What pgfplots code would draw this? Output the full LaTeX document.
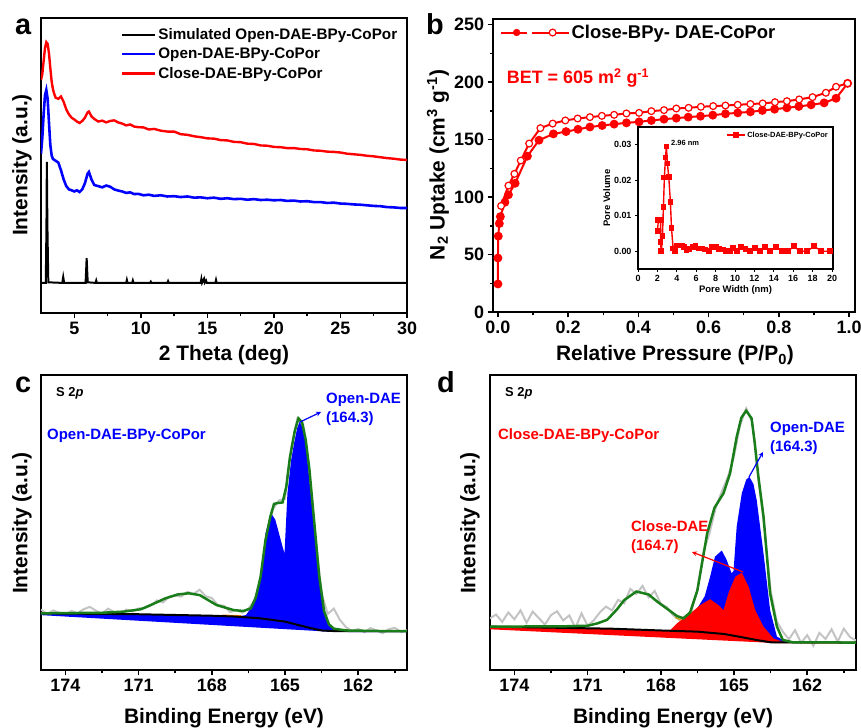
\documentclass[border=0pt]{standalone}
\usepackage{pgfplots}
\pgfplotsset{compat=1.18}
\usepackage{fontspec}
\setmainfont{Liberation Sans}
\definecolor{fitgreen}{RGB}{25,125,25}
\definecolor{rawgray}{RGB}{195,195,195}
\definecolor{bgolive}{RGB}{200,160,0}
\newcommand{\f}[1]{\fontsize{#1}{#1}\selectfont\bfseries}

\pgfplotsset{
  panel/.style={scale only axis, tick align=outside, tick pos=left,
    axis line style={line width=2pt},
    tick style={black, line width=1.5pt},
    major tick length=5.5bp, minor tick length=3.5bp,
    tick label style={font=\f{18}},
    /pgf/number format/assume math mode=true},
  xps/.style={panel, width=366bp, height=295bp, x dir=reverse,
    xmin=160, xmax=175, ymin=0, ymax=100, ytick=\empty,
    xtick={174,171,168,165,162}, minor xtick={172.5,169.5,166.5,163.5,160.5}},
}

\begin{document}
\begin{tikzpicture}
\useasboundingbox (0,0) rectangle (861bp,728bp);

% ---------------- (a) PXRD
\begin{axis}[panel, at={(41bp,415bp)}, anchor=south west,
  width=366bp, height=295bp,
  xmin=2.5, xmax=30, ymin=0, ymax=100, ytick=\empty,
  xtick={5,10,...,30}, minor x tick num=1,
  legend style={at={(rel axis cs:0.215,0.975)}, anchor=north west,
    draw=none, fill=none, font=\f{15.3}, row sep=3bp, inner sep=1bp},
  legend cell align=left,
  legend image code/.code={\draw[#1, line width=2.5pt] (0bp,0bp) -- (33bp,0bp);}]
\addplot[black, line width=2pt] coordinates {
(2.5,10.2) (2.86,10.2) (2.91,30) (2.94,51.2) (2.98,30) (3.05,10.4) (4.1,10.2)
(4.17,12.2) (4.24,10.2) (5.85,10.2) (5.93,18.6) (6.01,10.4) (6.6,10.2)
(6.65,11.0) (6.7,10.2) (8.9,10.2) (8.95,11.2) (9.0,10.2) (9.35,10.2)
(9.4,11.0) (9.45,10.2) (10.7,10.2) (10.75,10.6) (10.8,10.2) (12.0,10.2)
(12.05,10.8) (12.1,10.2) (14.5,10.2) (14.55,11.5) (14.6,10.2) (14.75,11.6)
(14.8,10.3) (14.9,11.0) (14.95,10.2) (15.6,10.2) (15.65,11.2) (15.7,10.2)
(30,10.2)};
\addlegendentry{Simulated Open-DAE-BPy-CoPor}
\addplot[blue, line width=2.6pt] coordinates {
(2.5,54.0) (2.6,59.5) (2.7,67.5) (2.8,73.8) (2.9,75.6) (3.0,72.5) (3.1,64.5)
(3.2,57.0) (3.3,53.4) (3.4,52.2) (3.6,51.6) (3.8,51.0) (4.0,48.4) (4.2,45.3)
(4.4,43.0) (4.6,41.9) (4.8,41.6) (5.0,41.2) (5.2,41.6) (5.4,41.0) (5.6,41.9)
(5.8,44.0) (6.0,47.2) (6.1,47.8) (6.3,45.2) (6.5,43.4) (6.8,43.0) (7.1,42.6)
(7.4,43.2) (7.7,42.8) (8.0,41.9) (8.3,41.5) (8.6,41.2) (8.9,40.7) (9.2,40.9)
(9.5,40.3) (9.8,40.4) (10.2,39.9) (10.6,40.1) (11.0,39.7) (11.5,39.9)
(12.0,39.5) (12.5,39.6) (13.0,39.3) (13.5,39.5) (14.0,39.1) (14.5,39.2)
(15.0,38.9) (15.5,39.1) (16.0,38.7) (16.5,38.9) (17.0,38.6) (17.5,38.7)
(18.0,38.4) (18.5,38.6) (19.0,38.3) (19.5,38.4) (20.0,38.2) (20.5,38.3)
(21.0,38.0) (21.5,38.1) (22.0,37.8) (22.5,37.9) (23.0,37.6) (23.5,37.6)
(24.0,37.3) (24.5,37.4) (25.0,37.1) (25.5,37.0) (26.0,36.8) (26.5,36.7)
(27.0,36.5) (27.5,36.3) (28.0,36.2) (28.5,35.9) (29.0,35.8) (29.5,35.6)
(30.0,35.6)};
\addlegendentry{Open-DAE-BPy-CoPor}
\addplot[red, line width=2.4pt] coordinates {
(2.5,79.0) (2.6,81.0) (2.7,85.5) (2.8,89.8) (2.9,91.8) (3.0,91.2) (3.1,88.0)
(3.2,83.0) (3.3,78.5) (3.4,75.8) (3.5,74.2) (3.6,73.0) (3.8,72.6) (4.0,73.4)
(4.2,71.6) (4.4,69.0) (4.6,67.3) (4.8,66.2) (5.0,65.6) (5.2,64.9) (5.4,64.4)
(5.6,65.1) (5.8,66.2) (6.0,68.0) (6.1,68.3) (6.3,66.6) (6.5,65.8) (6.8,64.9)
(7.1,65.2) (7.4,64.6) (7.7,65.1) (8.0,65.3) (8.3,64.6) (8.6,64.2) (8.9,63.6)
(9.2,63.9) (9.5,63.2) (9.8,63.0) (10.2,62.9) (10.6,62.2) (11.0,62.4)
(11.5,61.8) (12.0,61.5) (12.5,61.5) (13.0,60.6) (13.5,60.4) (14.0,59.9)
(14.5,59.6) (15.0,59.2) (15.5,59.1) (16.0,58.6) (16.5,58.5) (17.0,58.0)
(17.5,57.9) (18.0,57.4) (18.5,57.3) (19.0,56.8) (19.5,56.7) (20.0,56.3)
(20.5,56.2) (21.0,55.9) (21.5,55.9) (22.0,55.6) (22.5,55.5) (23.0,55.1)
(23.5,55.0) (24.0,54.7) (24.5,54.6) (25.0,54.4) (25.5,54.0) (26.0,53.8)
(26.5,53.6) (27.0,53.3) (27.5,53.1) (28.0,52.8) (28.5,52.5) (29.0,52.3)
(29.5,52.0) (30.0,51.9)};
\addlegendentry{Close-DAE-BPy-CoPor}
\end{axis}

% ---------------- (b) N2 isotherm
\begin{axis}[panel, at={(493bp,416bp)}, anchor=south west,
  width=362bp, height=293bp, clip=false,
  xmin=-0.014, xmax=1.017, ymin=0, ymax=255,
  xtick={0,0.2,...,1.0}, minor x tick num=1,
  ytick={0,50,...,250}, minor y tick num=1,
  xticklabel style={/pgf/number format/.cd, fixed, fixed zerofill, precision=1},
  legend style={at={(rel axis cs:0.015,0.99)}, anchor=north west,
    draw=none, fill=none, font=\f{18.5}, inner sep=1bp}]
\addplot[red, line width=2pt, mark=*, mark size=3.4bp, forget plot] coordinates {
(0.0,24.4) (0.0,47) (0.001,66) (0.004,77) (0.007,83) (0.02,95.5) (0.03,102)
(0.049,112) (0.084,135.6) (0.117,149.5) (0.158,155) (0.194,157) (0.228,159)
(0.262,161) (0.297,162.3) (0.331,163.5) (0.366,164.6) (0.402,165.5)
(0.437,166.7) (0.473,167.8) (0.508,168.7) (0.542,169.6) (0.577,170.4)
(0.612,171.3) (0.648,172.5) (0.683,173.3) (0.719,174.2) (0.753,175.4)
(0.788,176.5) (0.823,177.7) (0.857,178.9) (0.892,180.3) (0.929,182)
(0.963,186) (0.996,199)};
\addplot[red, line width=2pt, mark=*, mark size=3.4bp,
  mark options={fill=white, line width=1.2pt}, forget plot] coordinates {
(0.996,199) (0.963,196) (0.934,190.8) (0.896,187) (0.858,185) (0.823,183.5)
(0.789,182.6) (0.754,181.5) (0.719,181) (0.683,180.3) (0.648,179.7)
(0.613,179.2) (0.578,178.6) (0.543,177.7) (0.508,177.1) (0.473,175.7)
(0.437,174.8) (0.402,173.3) (0.366,172.8) (0.331,171.6) (0.296,170.7)
(0.262,169.6) (0.227,168.4) (0.192,166.7) (0.156,164) (0.121,160)
(0.089,146.6) (0.065,131.8) (0.047,120.2) (0.03,110) (0.009,92.3)};
\addlegendimage{legend image code/.code={
  \draw[red, line width=2pt] (0bp,0bp) -- (26bp,0bp);
  \fill[red] (16bp,0bp) circle (3.4bp);
  \draw[red, line width=2pt] (31bp,0bp) -- (68bp,0bp);
  \filldraw[red, fill=white, line width=1.2pt] (52bp,0bp) circle (3.4bp);}}
\addlegendentry{Close-BPy- DAE-CoPor}
\node[anchor=base west, red, font=\f{18}, inner sep=0pt] at (axis cs:0.025,199) {BET = 605 m\textsuperscript{2} g\textsuperscript{-1}};
\end{axis}

% inset: pore size distribution
\begin{axis}[scale only axis, at={(638bp,459bp)}, anchor=south west,
  width=195bp, height=142bp, axis background/.style={fill=white},
  xmin=0, xmax=20.1, ymin=-0.005, ymax=0.035,
  xtick={0,2,...,20}, ytick={0,0.01,0.02,0.03}, scaled y ticks=false,
  yticklabel style={/pgf/number format/.cd, fixed, fixed zerofill, precision=2},
  /pgf/number format/assume math mode=true,
  tick label style={font=\f{9}}, label style={font=\f{9.5}},
  tick align=outside, tick pos=left, axis line style={line width=1.3pt},
  tick style={black, line width=1pt}, major tick length=3bp,
  xlabel={Pore Width (nm)}, ylabel={Pore Volume},
  xlabel style={yshift=3bp}, ylabel style={yshift=-3bp},
  legend style={at={(rel axis cs:0.99,0.99)}, anchor=north east, draw=none,
    fill=none, font=\f{7.5}, inner sep=1bp},
  legend image code/.code={\draw[mark repeat=2, mark phase=2, #1]
    plot coordinates {(0bp,0bp) (9bp,0bp) (18bp,0bp)};}]
\addplot[red, line width=1.4pt, mark=square*, mark size=2.2bp] coordinates {
(2.0,0.0057) (2.1,0.0087) (2.34,0.0087) (2.31,0.0025) (2.41,0) (2.52,0.0042)
(2.62,0.0125) (2.72,0.0208) (2.83,0.0264) (2.93,0.0295) (3.03,0.0247)
(3.17,0.021) (3.34,0.0139) (3.45,0.0066) (3.62,0.0008) (3.79,0.0)
(4.0,0.0016) (4.24,0.0016) (4.52,0.0016) (4.75,0.0012) (5.0,0.0002)
(5.28,0.0006) (5.66,0.0011) (5.93,0.0014) (6.24,0.0008) (6.59,0.0008)
(6.93,0.0005) (7.28,0) (7.62,0.0011) (8.03,0.0011) (8.38,0.0006)
(8.72,0.0005) (9.1,0) (9.48,0) (9.76,0.0009) (10.17,0) (10.62,0.0011)
(11.07,0.0006) (11.55,0) (12.07,0.0009) (12.59,0) (13.1,0.0011) (13.62,0)
(14.24,0.0011) (14.83,0) (15.45,0) (16.07,0.0014) (16.69,0) (17.41,0)
(18.17,0.0014) (18.9,0) (19.76,0)};
\addlegendentry{Close-DAE-BPy-CoPor}
\node[anchor=west, font=\f{7.5}, inner sep=0pt] at (axis cs:3.4,0.0306) {2.96 nm};
\end{axis}

% ---------------- (c) XPS open
\begin{axis}[xps, at={(41bp,58bp)}, anchor=south west]
\addplot[rawgray, line width=2pt] coordinates {
(175.0,20.5) (174.75,19.0) (174.5,20.2) (174.25,19.4) (174.0,18.8)
(173.75,20.0) (173.5,19.3) (173.25,20.6) (173.0,21.4) (172.75,20.1)
(172.5,19.0) (172.25,20.8) (172.0,19.6) (171.75,18.9) (171.5,20.5)
(171.25,19.8) (171.0,20.9) (170.75,21.0) (170.5,21.8) (170.25,23.6)
(170.0,22.9) (169.75,24.8) (169.5,25.2) (169.25,24.9) (169.0,26.5)
(168.75,25.8) (168.5,27.2) (168.25,25.0) (168.0,24.4) (167.75,22.0)
(167.5,21.8) (167.25,19.6) (167.0,20.3) (166.75,19.5) (166.5,20.8)
(166.25,23.5) (166.0,31) (165.75,45) (165.5,54.5) (165.25,57.5) (165.0,58)
(164.75,75) (164.5,85) (164.25,83) (164.0,66) (163.75,45) (163.5,26)
(163.25,19) (163.0,20.8) (162.75,17) (162.5,14.5) (162.25,13.2) (162.0,13.9)
(161.75,12.8) (161.5,14.2) (161.25,13.4) (161.0,12.5) (160.75,13.8)
(160.5,14.3) (160.25,12.9) (160.0,13.5)};
\addplot[fill=blue, draw=none] coordinates {
(175,19.2) (171,18.9) (168,18.4) (167,18.1) (166.6,18.6) (166.41,20.9)
(166.2,25.5) (166.0,31.6) (165.8,46.3) (165.65,51) (165.52,52.5) (165.4,51)
(165.32,48.6) (165.1,41.8) (165.02,39.5) (164.9,59.9) (164.75,71)
(164.63,76.8) (164.5,82) (164.4,84.2) (164.3,82.5) (164.15,76.8)
(163.88,54.2) (163.6,31.6) (163.33,18.1) (163.06,14.1) (162.8,13.3)
(160,13.2) (160,12.8) (163.0,12.9) (175,18.6)} -- cycle;
\addplot[orange, line width=1.2pt] coordinates {(167.6,18.6) (166.8,18.4)};
\addplot[black, line width=2pt] coordinates {
(175,19.2) (171,18.9) (168,18.4) (167,18.1) (166,17.5) (165,16.4)
(164,14.3) (163.5,13.4) (163,13.2) (160,13.2)};
\addplot[fitgreen, line width=2.5pt] coordinates {
(175,19.2) (172.5,19.4) (171.6,19.8) (170.9,20.6) (170.4,22.4) (169.9,24.3)
(169.4,25.6) (168.95,26.0) (168.5,25.4) (167.8,22.0) (167.1,20.3)
(166.7,20.0) (166.4,20.9) (166.2,24.5) (166.0,31.6) (165.8,44) (165.6,52)
(165.45,56.3) (165.3,56.6) (165.1,56.8) (164.95,62) (164.8,72) (164.6,81)
(164.45,85.3) (164.3,84) (164.15,78) (164.0,68) (163.8,50) (163.6,32)
(163.4,20) (163.2,15.5) (163.0,14) (162.5,13.4) (161,13.2) (160,13.2)};
\end{axis}

% ---------------- (d) XPS close
\begin{axis}[xps, at={(490bp,58bp)}, anchor=south west]
\addplot[rawgray, line width=2pt] coordinates {
(175.0,17.5) (174.75,18.8) (174.5,16.3) (174.25,19.5) (174.0,17.2)
(173.75,20.2) (173.5,16.0) (173.25,19.8) (173.0,17.6) (172.75,15.4)
(172.5,18.6) (172.25,19.9) (172.0,16.8) (171.75,18.5) (171.5,14.2)
(171.25,19.2) (171.0,15.0) (170.75,16.8) (170.5,19.5) (170.25,21.5)
(170.0,20.2) (169.75,23.8) (169.5,22.6) (169.25,27.5) (169.0,25.8)
(168.75,28.5) (168.5,24.6) (168.25,26.8) (168.0,22.4) (167.75,21.3)
(167.5,18.6) (167.25,17.0) (167.0,18.2) (166.75,19.5) (166.5,27.5)
(166.25,40.0) (166.0,46.5) (165.75,55.0) (165.5,60.5) (165.25,65.5)
(165.0,72.5) (164.75,83.0) (164.5,88.7) (164.25,84.0) (164.0,64.5)
(163.75,48.0) (163.5,27.0) (163.25,16.5) (163.0,13.0) (162.75,10.4)
(162.5,13.5) (162.25,9.2) (162.0,11.8) (161.75,8.2) (161.5,12.6)
(161.25,10.5) (161.0,13.8) (160.75,9.6) (160.5,14.0) (160.25,11.2)
(160.0,10.0)};
\addplot[fill=blue, draw=none] coordinates {
(166.5,21) (166.2,25) (165.98,31.6) (165.78,38.4) (165.5,40.5) (165.3,37.3)
(165.1,32.8) (165.02,33.5) (164.89,48.6) (164.68,59.9) (164.5,64.5)
(164.37,65.5) (164.2,63) (164.07,57.6) (163.79,39.5) (163.52,20.3)
(163.24,11.3) (162.8,9.4) (162.8,9.2) (166.5,12.5)} -- cycle;
\addplot[bgolive, line width=1.2pt] coordinates {
(167.4,17.8) (166.8,15.5) (166,14) (165,12.6) (164,10.8) (163.2,9.6)};
\addplot[fill=red, draw=none] coordinates {
(175,14.7) (170,14.0) (168,13.4) (167.6,13.6) (167.34,15.8) (167.07,17.5)
(166.79,19.2) (166.38,22) (165.98,24) (165.64,22) (165.43,20.3)
(165.23,26) (164.95,31.6) (164.68,33) (164.4,28.2) (164.13,20.3)
(163.79,14.7) (163.38,10.7) (163.0,9.6) (160,9.3) (160,9.0) (163.2,9.1)
(175,13.8)} -- cycle;
\addplot[black, line width=2pt] coordinates {
(175,14.7) (170,14.0) (168,13.4) (166.5,13.0) (165.4,12.2) (164.6,11.0)
(164.1,10.2) (163.5,9.4) (160,9.3)};
\addplot[fitgreen, line width=2.5pt] coordinates {
(175,14.7) (172,14.8) (171,15.0) (170.6,15.8) (170.2,17.0) (169.8,20.5)
(169.5,23.7) (169.0,26.6) (168.5,25.6) (168.15,23.2) (167.7,20.5)
(167.34,18.3) (167.07,17.5) (166.8,19.5) (166.5,27) (166.1,46.3)
(165.8,55) (165.43,59.9) (165.16,66.7) (164.89,79) (164.7,85.5)
(164.5,87.9) (164.28,85.3) (164.15,77) (164.0,65.5) (163.79,52)
(163.52,26) (163.24,14.7) (163.0,10.2) (162.6,9.4) (160,9.3)};
\end{axis}

% ---------------- labels and annotations
\node[anchor=base west, font=\f{29}, inner sep=0pt] at (15bp,693bp) {a};
\node[anchor=base west, font=\f{29}, inner sep=0pt] at (426bp,693bp) {b};
\node[anchor=base west, font=\f{29}, inner sep=0pt] at (15bp,335bp) {c};
\node[anchor=base west, font=\f{29}, inner sep=0pt] at (437bp,335bp) {d};

\node[anchor=base, font=\f{21}] at (224bp,367bp) {2 Theta (deg)};
\node[anchor=base, font=\f{21}] at (675bp,367bp) {Relative Pressure (P/P\textsubscript{0})};
\node[anchor=base, font=\f{21}] at (224bp,5bp) {Binding Energy (eV)};
\node[anchor=base, font=\f{21}] at (673bp,5bp) {Binding Energy (eV)};
\node[rotate=90, font=\f{21}] at (22bp,563bp) {Intensity (a.u.)};
\node[rotate=90, font=\f{21}] at (438bp,563bp) {N\textsubscript{2} Uptake (cm\textsuperscript{3} g\textsuperscript{-1})};
\node[rotate=90, font=\f{21}] at (22bp,205bp) {Intensity (a.u.)};
\node[rotate=90, font=\f{21}] at (470bp,205bp) {Intensity (a.u.)};

\node[anchor=base west, font=\f{13}, inner sep=0pt] at (56bp,331bp) {S 2\textit{p}};
\node[anchor=base west, font=\f{13}, inner sep=0pt] at (505bp,331bp) {S 2\textit{p}};
\node[anchor=base west, blue, font=\f{15}, inner sep=0pt] at (47bp,288bp) {Open-DAE-BPy-CoPor};
\node[anchor=base west, red, font=\f{15}, inner sep=0pt] at (498bp,288bp) {Close-DAE-BPy-CoPor};
\node[anchor=base west, blue, font=\f{15}, inner sep=0pt] at (326bp,324bp) {Open-DAE};
\node[anchor=base west, blue, font=\f{15}, inner sep=0pt] at (326bp,305bp) {(164.3)};
\node[anchor=base west, blue, font=\f{15}, inner sep=0pt] at (770bp,295bp) {Open-DAE};
\node[anchor=base west, blue, font=\f{15}, inner sep=0pt] at (770bp,276bp) {(164.3)};
\node[anchor=base west, red, font=\f{15}, inner sep=0pt] at (631bp,196bp) {Close-DAE};
\node[anchor=base west, red, font=\f{15}, inner sep=0pt] at (631bp,177bp) {(164.7)};
\draw[blue, line width=1.2pt, -stealth] (300bp,306bp) -- (321bp,316bp);
\draw[blue, line width=1.2pt, -stealth] (749bp,251bp) -- (763bp,276bp);
\draw[red, line width=1.2pt, -stealth] (743bp,156bp) -- (692bp,176bp);
\end{tikzpicture}
\end{document}
